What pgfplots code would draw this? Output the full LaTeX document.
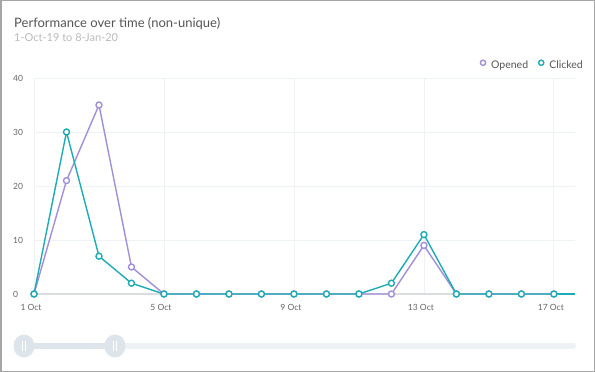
\documentclass[border=0pt]{standalone}
\usepackage{fontspec}
\setmainfont{Lato}
\usepackage{pgfplots}
\pgfplotsset{compat=1.18}
\definecolor{opened}{HTML}{A18FD8}
\definecolor{clicked}{HTML}{1DACB4}
\definecolor{gridc}{HTML}{EEF2F5}
\definecolor{zeroc}{HTML}{DADDE0}
\definecolor{tickc}{HTML}{666666}
\definecolor{titlec}{HTML}{555555}
\definecolor{subc}{HTML}{BBBBBB}
\definecolor{handle}{HTML}{DDE4EA}
\definecolor{trackl}{HTML}{EEF2F5}
\begin{document}
\begin{tikzpicture}
% frame
\draw[draw=none,fill=white] (0bp,0bp) rectangle (595bp,372bp);
\draw[color=black!35,line width=1.5bp] (0.75bp,0.75bp) rectangle (594.25bp,371.25bp);
% title
\node[anchor=base west,inner sep=0,text=titlec,font=\fontsize{13bp}{16bp}\selectfont] at (14bp,344bp) {Performance over time (non-unique)};
\node[anchor=base west,inner sep=0,text=subc,font=\fontsize{11bp}{12bp}\selectfont] at (14bp,330bp) {1-Oct-19 to 8-Jan-20};
% slider
\draw[trackl,line width=6bp,line cap=round] (115bp,26bp) -- (573bp,26bp);
\draw[handle,line width=6bp] (24bp,26bp) -- (115bp,26bp);
\foreach \hx in {24,115}{
  \fill[handle] (\hx bp,26bp) ellipse (10.5bp and 11.5bp);
  \draw[white,line width=0.8bp] (\hx bp-1.3bp,21bp) -- (\hx bp-1.3bp,31bp);
  \draw[white,line width=0.8bp] (\hx bp+1.3bp,21bp) -- (\hx bp+1.3bp,31bp);
}
\begin{axis}[
  at={(34bp,78bp)}, anchor=south west,
  scale only axis, width=541bp, height=216bp,
  xmin=1, xmax=17.65, ymin=0, ymax=40,
  axis line style={draw=none},
  tick style={draw=none},
  clip=false,
  xtick={1,5,9,13,17},
  xticklabels={1 Oct,5 Oct,9 Oct,13 Oct,17 Oct},
  ytick={0,10,20,30,40},
  /pgf/number format/assume math mode=true,
  tick label style={font=\fontsize{8.5bp}{10bp}\selectfont, text=tickc},
  major tick length=0pt,
  xticklabel style={anchor=north, inner sep=0pt, yshift=-10bp, xshift=-3bp},
  yticklabel style={anchor=west, inner sep=0pt, xshift=-21bp},
  legend columns=2,
  legend style={at={(rel axis cs:1.0148,1.060)}, anchor=east, draw=none, fill=none,
    font=\fontsize{10.5bp}{12bp}\selectfont, text=titlec, inner sep=0pt,
    nodes={inner sep=0pt},
    /tikz/every odd column/.append style={column sep=5.5bp},
    /tikz/every even column/.append style={column sep=10.5bp}},
  legend image code/.code={\draw[#1, mark size=2.6bp] plot coordinates {(0bp,0.5ex)};},
  every axis plot/.append style={line width=1.4bp, mark size=3bp},
]
% grid
\foreach \gx in {1,5,9,13,17}{
  \edef\tmp{\noexpand\draw[gridc,line width=0.8bp] (axis cs:\gx,0) -- (axis cs:\gx,40);}\tmp
}
\foreach \gy in {10,20,30,40}{
  \edef\tmp{\noexpand\draw[gridc,line width=0.8bp] (axis cs:1,\gy) -- (axis cs:17.65,\gy);}\tmp
}
\draw[zeroc,line width=1.6bp] (axis cs:1,0) -- (axis cs:17.65,0);
\addplot[color=opened, mark=*, mark options={fill=white,draw=opened,line width=1.4bp}] coordinates {
(1,0) (2,21) (3,35) (4,5) (5,0) (6,0) (7,0) (8,0) (9,0) (10,0) (11,0) (12,0) (13,9) (14,0) (15,0) (16,0) (17,0)};
\addlegendentry{Opened}
\addplot[color=clicked, mark=*, mark options={fill=white,draw=clicked,line width=1.4bp}] coordinates {
(1,0) (2,30) (3,7) (4,2) (5,0) (6,0) (7,0) (8,0) (9,0) (10,0) (11,0) (12,2) (13,11) (14,0) (15,0) (16,0) (17,0)};
\addlegendentry{Clicked}
\draw[clicked,line width=1.4bp] (axis cs:17,0) -- (axis cs:17.65,0);
\end{axis}
\end{tikzpicture}
\end{document}
